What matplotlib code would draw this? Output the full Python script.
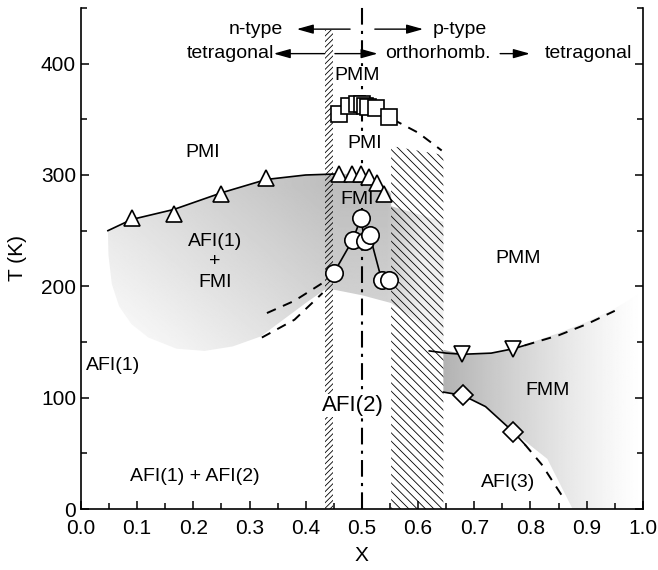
import numpy as np
import matplotlib.pyplot as plt
from matplotlib.patches import Polygon
from matplotlib.ticker import MultipleLocator

plt.rcParams['font.family'] = ['Liberation Sans', 'DejaVu Sans']
plt.rcParams['hatch.linewidth'] = 0.6

# measured transition temperatures
tri_up_x = [0.09, 0.165, 0.25, 0.33, 0.459, 0.482, 0.498, 0.512, 0.526, 0.539]
tri_up_t = [261, 265, 283, 297, 301, 301, 301, 298, 293, 283]
sq_x = [0.459, 0.477, 0.491, 0.500, 0.505, 0.511, 0.525, 0.548]
sq_t = [355, 362, 364, 364, 362, 361, 360, 352]
circ_x = [0.45, 0.484, 0.498, 0.505, 0.514, 0.535, 0.548]
circ_t = [212, 242, 261, 241, 246, 206, 206]
tri_dn_x = [0.678, 0.769]
tri_dn_t = [139, 144]
dia_x = [0.68, 0.769]
dia_t = [102, 69]

# guide lines (solid / dashed)
tc_x = [0.048, 0.09, 0.165, 0.25, 0.33, 0.40, 0.46]
tc_t = [250, 260, 269, 284, 296, 300, 301]
pmm_dash_x = [0.555, 0.60, 0.642]
pmm_dash_t = [350, 338, 322]
left_dash1_x = [0.331, 0.38, 0.43]
left_dash1_t = [176, 187, 203]
left_dash2_x = [0.322, 0.38, 0.43]
left_dash2_t = [154, 170, 194]
tn_solid_x = [0.62, 0.65, 0.68, 0.73, 0.77, 0.79]
tn_solid_t = [142, 140, 139, 140, 144, 147]
tn_dash_x = [0.79, 0.85, 0.90, 0.95]
tn_dash_t = [147, 156, 166, 178]
dia_solid_x = [0.645, 0.68, 0.72, 0.77, 0.79]
dia_solid_t = [105, 102, 92, 69, 58]
dia_dash_x = [0.79, 0.82, 0.856]
dia_dash_t = [58, 40, 12]

# shaded phase regions
left_reg_x = [0.048, 0.09, 0.165, 0.25, 0.33, 0.40, 0.45, 0.50, 0.54, 0.552, 0.552,
              0.645, 0.645, 0.60, 0.552, 0.50, 0.45, 0.434, 0.40, 0.36, 0.32,
              0.27, 0.22, 0.17, 0.12, 0.09, 0.068, 0.055, 0.049]
left_reg_t = [250, 260, 269, 284, 296, 300, 301, 301, 290, 283, 272,
              258, 150, 168, 185, 192, 197, 197, 185, 170, 155,
              146, 142, 144, 154, 166, 182, 202, 228]
right_reg_x = [0.645, 0.68, 0.73, 0.77, 0.85, 0.90, 0.95, 1.0, 1.0, 0.875, 0.83,
               0.77, 0.72, 0.68, 0.645]
right_reg_t = [143, 139, 140, 144, 158, 168, 180, 195, 0, 0, 45,
               69, 92, 102, 105]

# hatched two-phase bands
band1_x = [0.434, 0.448, 0.448, 0.434]
band1_t = [0, 0, 430, 430]
band2_x = [0.552, 0.645, 0.645, 0.552]
band2_t = [0, 0, 318, 326]


def left_shade(x, t):
    u = np.clip((x - 0.04) / 0.42, 0, 1)
    v = np.clip((t - 140) / 150, 0, 1)
    fade = np.clip(1 - (x - 0.545) / 0.09, 0.3, 1)
    return 0.26 * np.clip(0.55 * u + 0.45 * v, 0, 1) * fade


def right_shade(x, t):
    return 0.30 * np.clip((1.0 - x) / 0.355, 0, 1) ** 1.2


fig, ax = plt.subplots(figsize=(6.58, 5.70), dpi=100)
fig.subplots_adjust(left=0.123, right=0.977, bottom=0.107, top=0.986)
ax.set_xlim(0, 1)
ax.set_ylim(0, 450)

# gray gradients clipped to region outlines
gx, gt = np.meshgrid(np.linspace(0, 1, 500), np.linspace(0, 450, 500))
for shade, rx, rt in [(left_shade, left_reg_x, left_reg_t),
                      (right_shade, right_reg_x, right_reg_t)]:
    img = ax.imshow(1 - shade(gx, gt), cmap='gray', vmin=0, vmax=1, origin='lower',
                    extent=(0, 1, 0, 450), aspect='auto', zorder=1,
                    interpolation='bilinear')
    poly = Polygon(np.column_stack([rx, rt]), closed=True, facecolor='none',
                   edgecolor='none')
    ax.add_patch(poly)
    img.set_clip_path(poly)

ax.add_patch(Polygon(np.column_stack([band1_x, band1_t]), closed=True, fill=False,
                     hatch='//////', edgecolor='black', linewidth=0, zorder=2))
ax.add_patch(Polygon(np.column_stack([band2_x, band2_t]), closed=True, fill=False,
                     hatch='\\\\\\\\', edgecolor='black', linewidth=0, zorder=2))

ax.axvline(0.5, ymax=1.005, color='black', lw=1.5, dashes=(8, 3, 1.5, 3),
           zorder=3, clip_on=False)

# guide lines
ax.plot(tc_x, tc_t, color='black', lw=1.2, zorder=4)
for lx, lt in [(pmm_dash_x, pmm_dash_t), (left_dash1_x, left_dash1_t),
               (left_dash2_x, left_dash2_t), (tn_dash_x, tn_dash_t),
               (dia_dash_x, dia_dash_t)]:
    ax.plot(lx, lt, color='black', lw=1.4, dashes=(5, 4), zorder=4)
ax.plot(tn_solid_x, tn_solid_t, color='black', lw=1.2, zorder=4)
ax.plot(dia_solid_x, dia_solid_t, color='black', lw=1.2, zorder=4)
ax.plot(circ_x, circ_t, color='black', lw=1.2, zorder=4)

# data points
mk = dict(linestyle='none', markerfacecolor='white', markeredgecolor='black',
          markeredgewidth=1.2, zorder=5)
ax.plot(tri_up_x, tri_up_t, marker='^', markersize=12, **mk)
ax.plot(sq_x, sq_t, marker='s', markersize=11, **mk)
ax.plot(circ_x, circ_t, marker='o', markersize=12.5, **mk)
ax.plot(tri_dn_x, tri_dn_t, marker='v', markersize=12, **mk)
ax.plot(dia_x, dia_t, marker='D', markersize=10, **mk)

# phase labels
fs = 14
white = dict(facecolor='white', edgecolor='none', pad=1)
fmi_gray = str(1 - float(left_shade(0.491, 279)))
ax.text(0.491, 389, 'PMM', fontsize=fs, ha='center', va='center', zorder=6, bbox=white)
ax.text(0.505, 328, 'PMI', fontsize=fs, ha='center', va='center', zorder=6, bbox=white)
ax.text(0.217, 320, 'PMI', fontsize=fs, ha='center', va='center', zorder=6)
ax.text(0.491, 278, 'FMI', fontsize=fs, ha='center', va='center', zorder=4.5,
        bbox=dict(facecolor=fmi_gray, edgecolor='none', pad=0))
ax.text(0.238, 222, 'AFI(1)\n+\nFMI', fontsize=fs, ha='center', va='center',
        linespacing=1.25, zorder=6)
ax.text(0.778, 225, 'PMM', fontsize=fs, ha='center', va='center', zorder=6)
ax.text(0.057, 129, 'AFI(1)', fontsize=fs, ha='center', va='center', zorder=6)
ax.text(0.484, 93, 'AFI(2)', fontsize=16, ha='center', va='center', zorder=6, bbox=white)
ax.text(0.203, 29, 'AFI(1) + AFI(2)', fontsize=fs, ha='center', va='center', zorder=6)
ax.text(0.831, 106, 'FMM', fontsize=fs, ha='center', va='center', zorder=6)
ax.text(0.76, 24, 'AFI(3)', fontsize=fs, ha='center', va='center', zorder=6)

# doping / structure arrows along the top
arw = dict(arrowstyle='-|>,head_length=0.5,head_width=0.14', color='black',
           lw=1.0, shrinkA=0, shrinkB=0, mutation_scale=20)
ax.text(0.359, 431, 'n-type', fontsize=fs, ha='right', va='center')
ax.annotate('', xy=(0.384, 431), xytext=(0.479, 431), arrowprops=arw)
ax.annotate('', xy=(0.609, 431), xytext=(0.523, 431), arrowprops=arw)
ax.text(0.626, 431, 'p-type', fontsize=fs, ha='left', va='center')
ax.text(0.343, 409, 'tetragonal', fontsize=fs, ha='right', va='center')
ax.annotate('', xy=(0.343, 409), xytext=(0.434, 409), arrowprops=arw)
ax.annotate('', xy=(0.528, 409), xytext=(0.452, 409), arrowprops=arw)
ax.text(0.541, 409, 'orthorhomb.', fontsize=fs, ha='left', va='center')
ax.annotate('', xy=(0.799, 409), xytext=(0.746, 409), arrowprops=arw)
ax.text(0.826, 409, 'tetragonal', fontsize=fs, ha='left', va='center')

# axes styling
ax.spines['top'].set_visible(False)
for s in ['left', 'right', 'bottom']:
    ax.spines[s].set_linewidth(1.2)
ax.xaxis.set_major_locator(MultipleLocator(0.1))
ax.xaxis.set_minor_locator(MultipleLocator(0.05))
ax.yaxis.set_major_locator(MultipleLocator(100))
ax.yaxis.set_minor_locator(MultipleLocator(50))
ax.tick_params(which='both', direction='in', top=False, right=True, width=1.1,
               labelsize=15)
ax.tick_params(which='major', length=6)
ax.tick_params(axis='x', which='major', pad=7)
ax.tick_params(which='minor', length=4)
ax.xaxis.set_major_formatter(plt.FuncFormatter(lambda v, p: f'{v:.1f}'))
ax.set_xlabel('X', fontsize=15, labelpad=6)
ax.set_ylabel('T (K)', fontsize=15, labelpad=10)

fig.savefig('out.png', dpi=100)
